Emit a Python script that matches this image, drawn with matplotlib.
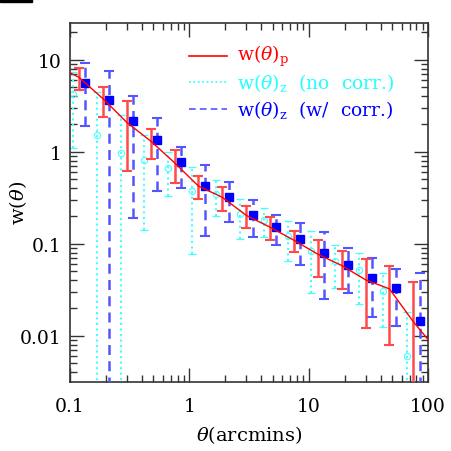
import matplotlib
matplotlib.use("Agg")
import matplotlib.pyplot as plt
import numpy as np
from matplotlib.patches import Rectangle
from matplotlib.ticker import LogLocator, FixedFormatter, FixedLocator

# bin centres (arcmin)
theta = [0.119, 0.189, 0.30, 0.475, 0.753, 1.19, 1.89, 3.0, 4.75, 7.53,
         11.9, 18.9, 30.0, 47.5, 75.3]

# w(theta)_p  (red, line + error bars)
w_p = [6.4, 3.75, 2.07, 1.30, 0.755, 0.423, 0.319, 0.203, 0.151, 0.109,
       0.077, 0.058, 0.0405, 0.0323, 0.0142]
err_p = [1.7, 1.35, 1.45, 0.47, 0.295, 0.117, 0.091, 0.056, 0.042, 0.027,
         0.033, 0.026, 0.0285, 0.0243, 0.0243]
# red line runs out to the axis edges
theta_line = [0.1] + theta + [100.0]
w_line = [7.2] + w_p + [0.0091]

# w(theta)_z no correction (cyan, dotted)
w_z_nc = [4.2, 1.50, 0.97, 0.82, 0.66, 0.378, 0.348, 0.209, 0.18, 0.121,
          0.0837, 0.065, 0.0512, 0.0304, 0.006]
err_z_nc = [3.1, 2.95, 1.51, 0.68, 0.33, 0.30, 0.15, 0.097, 0.063, 0.056,
            0.0547, 0.0316, 0.029, 0.018, 0.012]

# w(theta)_z with correction (blue, dashed)
w_z_c = [5.57, 3.67, 2.13, 1.35, 0.765, 0.421, 0.318, 0.207, 0.152, 0.113,
         0.079, 0.059, 0.0428, 0.0333, 0.0145]
err_z_c = [3.65, 3.8, 1.94, 0.98, 0.36, 0.30, 0.147, 0.09, 0.054, 0.055,
           0.054, 0.03, 0.027, 0.0204, 0.034]

x_ticks = [0.1, 1, 10, 100]
x_labels = ["0.1", "1", "10", "100"]
y_ticks = [0.01, 0.1, 1, 10]
y_labels = ["0.01", "0.1", "1", "10"]

plt.rcParams["font.family"] = ["DejaVu Serif"]
plt.rcParams["mathtext.fontset"] = "dejavuserif"

fig = plt.figure(figsize=(4.52, 4.52), dpi=100)
ax = fig.add_axes([0.155, 0.153, 0.792, 0.794])
ax.set_xscale("log")
ax.set_yscale("log")

th = np.array(theta)
shift = 1.13  # dodge the three series sideways

# cyan, no correction
eb = ax.errorbar(th / shift, w_z_nc, yerr=err_z_nc, fmt="o", ms=4.5,
                 mfc="none", mec="#55ffff", mew=0.9, ecolor="#44ffff",
                 elinewidth=1.5, capsize=3, capthick=1.0, zorder=2)
eb[2][0].set_linestyle(":")

# blue, with correction
eb = ax.errorbar(th * shift, w_z_c, yerr=err_z_c, fmt="s", ms=5.5,
                 color="#0000ff", ecolor="#5555ff", elinewidth=1.8,
                 capsize=3.5, capthick=1.5, zorder=3)
eb[2][0].set_linestyle((0, (4, 2.5)))

# red, projected
ax.errorbar(th, w_p, yerr=err_p, fmt="none", ecolor="#ff4a4a",
            elinewidth=1.8, capsize=3.5, capthick=1.5, zorder=4)
ax.plot(theta_line, w_line, color="red", lw=1.0, zorder=5)

ax.set_xlim(0.1, 100)
ax.set_ylim(0.00316, 25)

ax.xaxis.set_major_locator(FixedLocator(x_ticks))
ax.xaxis.set_major_formatter(FixedFormatter(x_labels))
ax.yaxis.set_major_locator(FixedLocator(y_ticks))
ax.yaxis.set_major_formatter(FixedFormatter(y_labels))
ax.xaxis.set_minor_locator(LogLocator(base=10, subs=np.arange(2, 10)))
ax.yaxis.set_minor_locator(LogLocator(base=10, subs=np.arange(2, 10)))
ax.xaxis.set_minor_formatter(FixedFormatter([]))
ax.yaxis.set_minor_formatter(FixedFormatter([]))

ax.tick_params(which="both", direction="in", top=True, right=True,
               color="#333333", labelsize=13.5)
ax.tick_params(axis="x", pad=11)
ax.tick_params(axis="y", pad=6)
ax.tick_params(which="major", length=10, width=1.0)
ax.tick_params(which="minor", length=5, width=1.0)
for s in ax.spines.values():
    s.set_linewidth(1.2)
    s.set_color("#333333")

ax.set_xlabel(r"$\theta$(arcmins)", fontsize=14)
ax.set_ylabel(r"w$(\theta)$", fontsize=14)
ax.xaxis.set_label_coords(0.5, -0.115)
ax.yaxis.set_label_coords(-0.115, 0.5)

# legend drawn by hand
rows = [
    (0.909, "red", "red", "-", r"w$(\theta)_{\rm p}$"),
    (0.835, "#22ffff", "#22ffff", ":", r"w$(\theta)_{\rm z}$  (no  corr.)"),
    (0.760, "#0000ff", "#5555ff", (0, (4, 2.5)),
     r"w$(\theta)_{\rm z}$  (w/  corr.)"),
]
for y, col, lcol, ls, txt in rows:
    ax.plot([0.332, 0.439], [y, y], transform=ax.transAxes,
            color=lcol, ls=ls, lw=1.2)
    ax.text(0.466, y, txt, transform=ax.transAxes, color=col,
            fontsize=13.5, va="center", ha="left")

fig.add_artist(Rectangle((0, 1 - 3 / 452), 32 / 452, 3 / 452,
                         transform=fig.transFigure, color="black"))

plt.savefig("out.png", dpi=100)
